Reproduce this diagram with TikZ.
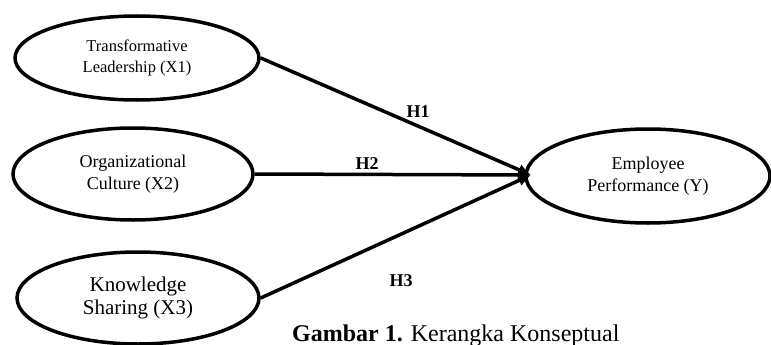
\documentclass[tikz,border=0pt]{standalone}
\usepackage{fontspec}
\setmainfont{Liberation Serif}
\usetikzlibrary{shapes.geometric,arrows.meta}
\begin{document}
\begin{tikzpicture}[x=1pt,y=-1pt,
  construct/.style={draw, ellipse, line width=3.5pt, inner sep=0pt, align=center},
  path/.style={line width=3.5pt, -{Latex[length=13pt,width=12pt]}},
  hyp/.style={font=\fontsize{18}{20}\selectfont\bfseries, inner sep=0pt}]
\useasboundingbox (0,0) rectangle (771,345);
\node[construct, minimum width=244pt, minimum height=84pt,
  font=\fontsize{16.5}{21}\selectfont] (X1) at (137,58) {Transformative\\Leadership (X1)};
\node[construct, minimum width=240pt, minimum height=92pt,
  font=\fontsize{18}{22}\selectfont] (X2) at (133,174) {Organizational\\Culture (X2)};
\node[construct, minimum width=242pt, minimum height=92pt,
  font=\fontsize{21}{23}\selectfont] (X3) at (138,298) {Knowledge\\Sharing (X3)};
\node[construct, minimum width=244pt, minimum height=94pt,
  font=\fontsize{18}{22}\selectfont] (Y) at (648,176) {Employee\\Performance (Y)};
\coordinate (tip) at (531,175);
\draw[path] (X1.east) -- (tip);
\draw[path] (X2.east) -- (tip);
\draw[path] (X3.east) -- (tip);
\node[hyp] (H1) at (418,112) {H1};
\node[hyp] (H2) at (367,164) {H2};
\node[hyp] (H3) at (401,281) {H3};
\node[anchor=base west, inner sep=0pt, font=\fontsize{24}{26}\selectfont] (cap) at (292,341)
  {\textbf{Gambar 1.} Kerangka Konseptual};
\end{tikzpicture}
\end{document}
